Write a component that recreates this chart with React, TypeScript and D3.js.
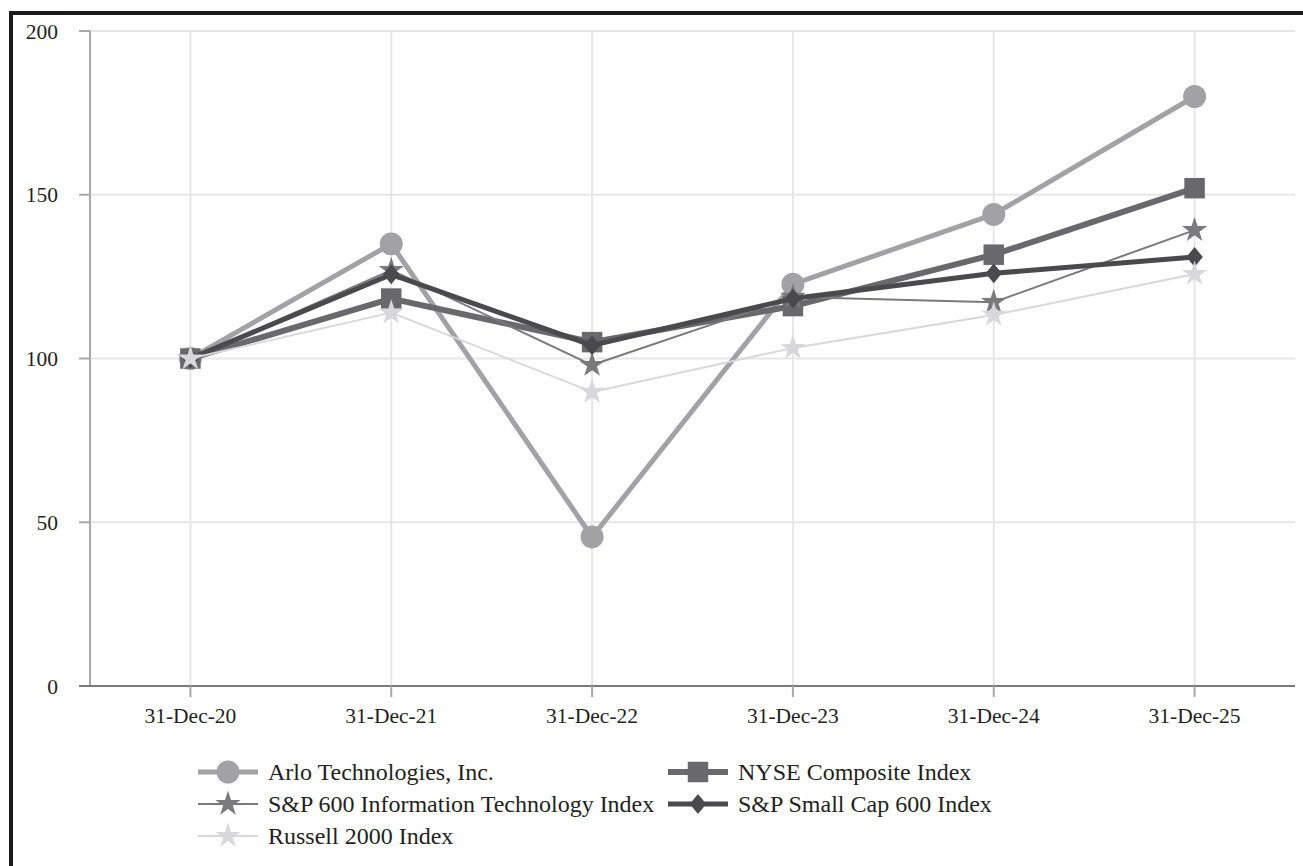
import React from 'react';
import * as d3 from 'd3';

// categories (x axis)
const dates = ['31-Dec-20', '31-Dec-21', '31-Dec-22', '31-Dec-23', '31-Dec-24', '31-Dec-25'];
const yTicks = [0, 50, 100, 150, 200];

// series values
const arlo = [100, 135, 45.5, 122.7, 144, 180];
const nyse = [100, 118.3, 105, 116, 131.7, 152];
const spIT = [100, 127, 98, 118.8, 117.2, 139.2];
const spSmall = [100, 125.7, 104, 118.3, 126, 131];
const russell = [100, 114, 89.8, 103.2, 113.3, 125.8];

const diamond = {
  draw(ctx: any, size: number) {
    const r = Math.sqrt(size) / 2;
    ctx.moveTo(0, -r * 1.15);
    ctx.lineTo(r * 0.95, 0);
    ctx.lineTo(0, r * 1.15);
    ctx.lineTo(-r * 0.95, 0);
    ctx.closePath();
  },
};

// drawn in this order, last on top
const series = [
  { name: 'Arlo Technologies, Inc.', values: arlo, color: '#a2a2a5', width: 5, symbol: d3.symbolCircle, size: 415 },
  { name: 'NYSE Composite Index', values: nyse, color: '#69696b', width: 6, symbol: d3.symbolSquare, size: 420 },
  { name: 'S&P 600 Information Technology Index', values: spIT, color: '#7a7a7c', width: 2, symbol: d3.symbolStar, size: 200 },
  { name: 'S&P Small Cap 600 Index', values: spSmall, color: '#4a4a4c', width: 5, symbol: diamond, size: 300 },
  { name: 'Russell 2000 Index', values: russell, color: '#d8d8da', width: 2, symbol: d3.symbolStar, size: 200 },
];

// legend layout: [column, row] per series
const legendSlots = [[0, 0], [1, 0], [0, 1], [1, 1], [0, 2]];

const W = 1303;
const H = 866;
const plot = { left: 90, right: 1295, top: 31, bottom: 686 };
const font = '"Liberation Serif", "Times New Roman", serif';
const ink = '#231f20';

export default function App() {
  const x = d3.scaleBand().domain(dates).range([plot.left, plot.right]);
  const cx = (d: string) => (x(d) as number) + x.bandwidth() / 2;
  const y = d3.scaleLinear().domain([0, 200]).range([plot.bottom, plot.top]);
  const line = d3.line<number>().x((_, i) => cx(dates[i])).y((v) => y(v));

  const legendX = [198, 668];
  const legendY = [772, 804, 836];

  return (
    <svg width={W} height={H} style={{ position: 'absolute', left: 0, top: 0, background: '#fff' }} fontFamily={font}>
      <rect x={0} y={0} width={W} height={H} fill="#fff" />
      {/* frame, only top and left show */}
      <rect x={11} y={13} width={W + 20} height={H + 20} fill="none" stroke="#1a1a1a" strokeWidth={4} />

      {/* grid */}
      {yTicks.filter((t) => t > 0).map((t) => (
        <line key={'h' + t} x1={plot.left} x2={plot.right} y1={y(t)} y2={y(t)} stroke="#e6e6e6" strokeWidth={2} />
      ))}
      {dates.map((d) => (
        <line key={'v' + d} x1={cx(d)} x2={cx(d)} y1={plot.top} y2={plot.bottom} stroke="#e6e6e6" strokeWidth={2} />
      ))}

      {/* y axis */}
      <line x1={plot.left} x2={plot.left} y1={plot.top} y2={plot.bottom} stroke="#a8a8a8" strokeWidth={2} />
      {yTicks.map((t) => (
        <g key={'yt' + t}>
          <line x1={plot.left - 11} x2={plot.left} y1={y(t)} y2={y(t)} stroke="#a8a8a8" strokeWidth={2} />
          <text x={58} y={y(t)} dy="0.35em" textAnchor="end" fontSize={21.5} fill={ink}>{t}</text>
        </g>
      ))}

      {/* x axis */}
      <line x1={plot.left - 11} x2={plot.right} y1={plot.bottom} y2={plot.bottom} stroke="#7a7a7a" strokeWidth={2} />
      {dates.map((d) => (
        <g key={'xt' + d}>
          <line x1={cx(d)} x2={cx(d)} y1={plot.bottom} y2={plot.bottom + 11} stroke="#a8a8a8" strokeWidth={2} />
          <text x={cx(d)} y={723} textAnchor="middle" fontSize={21.5} fill={ink}>{d}</text>
        </g>
      ))}

      {/* series */}
      {series.map((s) => (
        <g key={s.name}>
          <path d={line(s.values) as string} fill="none" stroke={s.color} strokeWidth={s.width} strokeLinejoin="round" />
          {s.values.map((v, i) => (
            <path
              key={i}
              transform={`translate(${cx(dates[i])},${y(v)})`}
              d={d3.symbol().type(s.symbol as any).size(s.size)() as string}
              fill={s.color}
            />
          ))}
        </g>
      ))}

      {/* legend */}
      {series.map((s, i) => {
        const [c, r] = legendSlots[i];
        const lx = legendX[c];
        const ly = legendY[r];
        return (
          <g key={'lg' + s.name}>
            <line x1={lx} x2={lx + 60} y1={ly} y2={ly} stroke={s.color} strokeWidth={s.width} />
            <path
              transform={`translate(${lx + 30},${ly})`}
              d={d3.symbol().type(s.symbol as any).size(s.size)() as string}
              fill={s.color}
            />
            <text x={lx + 70} y={ly} dy="0.33em" fontSize={24} fill={ink}>{s.name}</text>
          </g>
        );
      })}
    </svg>
  );
}
